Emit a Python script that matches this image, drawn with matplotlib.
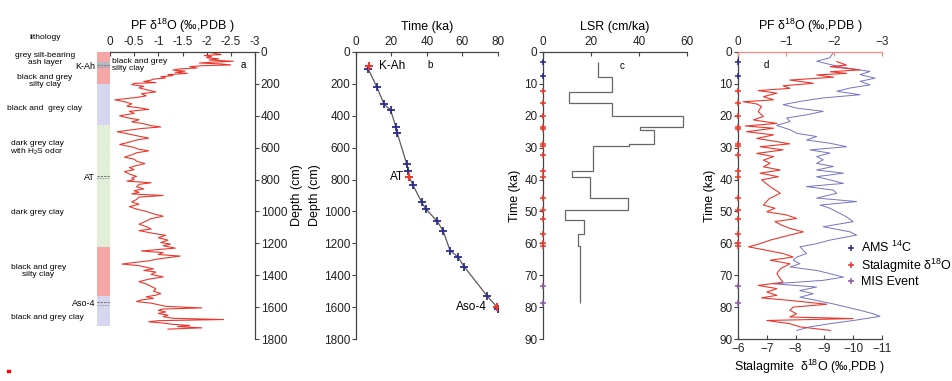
import matplotlib.pyplot as plt
import matplotlib.transforms as mtransforms
from matplotlib.lines import Line2D
from matplotlib.patches import Rectangle

plt.rcParams['font.family'] = ['Liberation Sans', 'DejaVu Sans']
plt.rcParams['font.size'] = 8.5
plt.rcParams['mathtext.fontset'] = 'custom'
plt.rcParams['mathtext.rm'] = 'Liberation Sans'
plt.rcParams['mathtext.default'] = 'regular'
plt.rcParams['axes.linewidth'] = 0.9
plt.rcParams['axes.edgecolor'] = '#444444'
plt.rcParams['xtick.color'] = '#444444'
plt.rcParams['ytick.color'] = '#444444'
plt.rcParams['xtick.labelcolor'] = '#222222'
plt.rcParams['ytick.labelcolor'] = '#222222'

# ---- panel a: PF d18O against depth ----
pf_depth = [0, 8, 16, 22, 28, 36, 43, 50, 58, 64,
            69, 75, 81, 86, 92, 100, 106, 113, 120, 127,
            134, 142, 148, 155, 163, 170, 176, 185, 192, 197,
            205, 215, 225, 240, 250, 262, 275, 285, 300, 312,
            325, 340, 350, 360, 372, 385, 400, 412, 425, 438,
            450, 462, 470, 480, 490, 500, 512, 525, 540, 552,
            565, 580, 595, 610, 620, 632, 645, 660, 672, 685,
            700, 712, 725, 738, 750, 765, 780, 790, 800, 810,
            820, 830, 845, 858, 870, 880, 890, 900, 910, 925,
            940, 955, 970, 985, 1000, 1015, 1030, 1045, 1060, 1080,
            1095, 1110, 1120, 1135, 1150, 1165, 1180, 1195, 1205, 1215,
            1230, 1240, 1248, 1258, 1270, 1280, 1290, 1300, 1310, 1320,
            1330, 1340, 1350, 1360, 1370, 1380, 1395, 1410, 1425, 1440,
            1455, 1470, 1485, 1500, 1515, 1525, 1535, 1545, 1555, 1565,
            1575, 1585, 1595, 1605, 1612, 1620, 1630, 1640, 1650, 1660,
            1670, 1678, 1685, 1692, 1700, 1708, 1715, 1722, 1730, 1738]
pf_value = [-2.05, -2.15, -2.3, -1.95, -2.1, -2.0, -2.25, -2.05, -2.55, -2.1,
            -1.85, -2.3, -2.5, -1.9, -1.65, -1.8, -1.45, -1.3, -1.55, -1.35,
            -1.6, -1.2, -1.3, -1.05, -1.15, -0.9, -0.85, -0.7, -0.95, -0.5,
            -0.45, -0.7, -0.6, -0.8, -0.95, -0.65, -0.75, -0.55, -0.1, -0.3,
            -0.45, -0.35, -0.6, -0.8, -0.4, -0.5, -0.2, -0.35, -0.6, -0.45,
            -0.7, -0.85, -1.05, -0.65, -0.4, -0.15, -0.35, -0.55, -0.8, -0.55,
            -0.4, -0.2, -0.45, -0.6, -0.8, -0.55, -0.45, -0.3, -0.5, -0.55,
            -0.72, -0.55, -0.4, -0.5, -0.3, -0.4, -0.55, -0.45, -0.5, -0.35,
            -0.85, -0.6, -0.55, -0.7, -0.5, -0.6, -0.45, -1.1, -0.6, -0.55,
            -0.45, -0.6, -0.4, -0.55, -0.75, -0.9, -1.1, -0.85, -0.75, -0.6,
            -0.75, -0.85, -0.6, -0.85, -1.15, -1.0, -1.2, -1.05, -1.25, -1.1,
            -1.35, -0.95, -0.65, -1.1, -1.0, -1.45, -1.2, -0.95, -0.8, -0.5,
            -0.25, -0.6, -0.75, -0.9, -0.7, -0.95, -0.85, -1.1, -0.8, -0.6,
            -0.75, -0.85, -0.95, -0.9, -1.05, -0.95, -0.75, -0.9, -0.65, -0.55,
            -0.85, -1.0, -1.15, -1.9, -1.1, -1.0, -1.15, -1.0, -1.2, -1.1,
            -1.3, -2.35, -1.0, -0.8, -1.1, -1.3, -1.65, -1.4, -1.9, -1.2]
pf_ticks = [0, -0.5, -1, -1.5, -2, -2.5, -3]
pf_ticklabels = ['0', '-0.5', '-1', '-1.5', '-2', '-2.5', '-3']

# lithology column
litho_top = [0, 200, 455, 1225, 1530]
litho_bot = [200, 455, 1225, 1530, 1720]
litho_color = ['#f5a6a6', '#d6d6ee', '#e2efd8', '#f5a6a6', '#d6d6ee']
litho_text = ['grey silt-bearing\nash layer', 'black and grey\nsilty clay',
              'black and  grey clay', 'dark grey clay\nwith H$_2$S odor',
              'dark grey clay', 'black and grey\nsilty clay', 'black and grey clay']
litho_text_depth = [44, 182, 352, 604, 1006, 1371, 1667]
litho_text_x = [-4.0, -4.0, -4.0, -4.6, -4.6, -4.5, -3.85]
marker_bed = ['K-Ah', 'AT', 'Aso-4']
marker_bed_depth = [80, 776, 1570]

# ---- panel b: age model ----
ams_age = [6.8, 11.7, 15.8, 19.5, 22.5, 23.3, 28.5, 29.5, 32.2, 37.0,
           39.3, 45.8, 49.2, 53.0, 57.3, 61.0, 74.0, 80.0]
ams_depth = [105, 218, 327, 365, 470, 511, 700, 747, 837, 942,
             984, 1062, 1125, 1246, 1284, 1347, 1532, 1613]
tephra_name = ['K-Ah', 'AT', 'Aso-4']
tephra_age = [7.3, 30.0, 79.3]
tephra_depth = [88, 785, 1598]
tephra_dx = [7, -4, -7]

# ---- panel c: linear sedimentation rate ----
lsr_edges = [3.0, 7.7, 12.4, 16.0, 20.0, 23.5, 24.4, 28.8, 29.6, 37.4,
             39.3, 45.9, 49.4, 52.7, 57.2, 60.8, 78.8]
lsr_values = [23.0, 28.6, 10.8, 28.6, 58.2, 40.4, 46.4, 36.0, 20.7, 12.0,
              19.6, 35.6, 9.2, 17.2, 14.7, 15.4]

# control points drawn on the time axes
ams_t = [3.2, 7.5]
stal_t = [12.1, 16.0, 20.0, 23.6, 24.3, 28.8, 29.6, 32.2, 37.4, 39.3,
          45.9, 49.4, 52.5, 57.2, 59.8, 60.8]
mis_t = [73.3, 78.8]

# ---- panel d: PF d18O and stalagmite d18O against time ----
pfd_time = [3.0, 4.1, 4.6, 5.6, 6.2, 6.7, 7.2, 7.9, 8.8, 9.8,
            10.6, 11.4, 12.1, 12.9, 14.0, 15.0, 15.6, 16.3, 17.1, 18.7,
            20.2, 21.3, 22.4, 23.2, 23.9, 25.0, 26.0, 27.1, 28.1, 28.8,
            29.7, 30.7, 31.8, 32.8, 33.9, 34.9, 36.0, 37.0, 38.0, 39.1,
            40.1, 42.2, 44.3,
            46.0, 48.0, 49.0, 50.1, 51.1, 52.2, 53.2, 54.3, 55.3, 56.4,
            57.4, 59.0, 60.1, 61.1, 62.2, 63.2, 64.3, 65.3, 66.4, 68.0,
            69.5, 71.1, 72.2, 73.2, 74.2, 75.3, 76.3, 77.1, 77.9, 79.1,
            80.0, 81.0, 82.1, 83.1, 83.6, 84.2, 85.2, 86.2, 87.3]
pfd_value = [-2.06, -2.26, -1.92, -2.54, -1.92, -2.26, -1.64, -1.99, -1.08, -1.57,
             -0.94, -1.08, -0.42, -0.81, -0.53, -0.74, -0.11, -0.39, -0.49, -0.42,
             -0.53, -0.32, -0.81, -0.15, -0.74, -0.18, -0.74, -0.39, -0.81, -1.08,
             -0.46, -0.94, -0.39, -0.74, -0.53, -0.67, -0.53, -0.88, -0.46, -0.84,
             -0.49, -0.67, -0.88,
             -0.65, -0.53, -0.77, -0.6, -1.01, -1.22, -0.77, -0.91, -1.08, -1.36,
             -1.08, -0.67, -0.46, -0.22, -0.6, -0.94, -1.15, -0.67, -1.08, -0.88,
             -0.81, -0.88, -0.94, -0.42, -0.81, -0.6, -0.81, -0.49, -1.08, -1.85,
             -1.15, -1.08, -1.22, -1.08, -2.4, -0.6, -1.08, -1.29, -1.92]
stal_time = [0.2, 1.8, 2.9, 3.9, 5.0, 6.1, 7.1, 8.2, 9.2, 10.3,
             11.3, 12.3, 13.4, 14.4, 15.5, 16.5, 17.6, 18.6, 19.7, 20.7,
             21.8, 23.0, 24.4, 25.5, 26.5, 27.6, 28.6, 29.7, 30.7, 31.7,
             32.8, 33.8, 34.9, 35.9, 37.0, 38.0, 39.1, 40.1, 41.2, 42.2,
             43.3, 44.3, 45.8, 46.9, 48.0, 49.0, 50.1, 51.7, 53.2, 54.8,
             56.4, 57.4, 59.0, 60.1, 61.1, 62.2, 63.2, 64.3, 65.3, 66.4,
             67.4, 68.5, 69.5, 70.6, 71.6, 72.7, 73.7, 74.8, 75.8, 76.9,
             77.9, 79.0, 80.0, 81.0, 82.1, 82.9, 84.2, 85.2, 86.2, 87.3]
stal_value = [-9.31, -9.19, -8.73, -9.19, -9.77, -10.58, -10.24, -10.76, -10.24, -10.58,
              -9.89, -9.43, -10.24, -8.96, -8.15, -7.57, -8.04, -8.96, -8.38, -7.69,
              -7.81, -7.34, -7.81, -8.04, -8.73, -8.38, -9.19, -9.77, -8.5, -9.19,
              -8.73, -8.96, -8.73, -9.31, -8.73, -9.66, -8.73, -9.19, -9.66, -8.38,
              -9.31, -9.43, -8.73, -10.12, -8.85, -9.19, -9.43, -9.77, -10.0, -8.96,
              -9.89, -10.12, -9.19, -8.73, -8.15, -8.27, -8.38, -8.04, -7.92, -8.15,
              -7.81, -8.73, -9.19, -9.66, -8.96, -7.23, -8.73, -8.15, -8.61, -8.15,
              -8.73, -9.31, -9.77, -10.24, -10.7, -10.93, -10.0, -9.19, -8.5, -8.04]

RED = '#e8392e'
BLUE = '#2b2b8c'
PURPLE = '#8a5a9e'
LINE_GREY = '#5a5a5a'

W, H = 953, 381


def box(x0, x1, y0=52, y1=339):
    return [x0 / W, 1 - y1 / H, (x1 - x0) / W, (y1 - y0) / H]


def axis_marks(ax, x0):
    for times, col in ((ams_t, BLUE), (stal_t, RED), (mis_t, PURPLE)):
        ax.plot([x0] * len(times), times, '+', color=col, ms=5, mew=1.1,
                clip_on=False, zorder=5)


fig = plt.figure(figsize=(9.53, 3.81), dpi=100)

# panel a
ax_a = fig.add_axes(box(110, 255))
ax_a.plot(pf_value, pf_depth, color=RED, lw=0.8)
ax_a.set_xlim(0, -3)
ax_a.set_ylim(1800, 0)
ax_a.xaxis.tick_top()
ax_a.xaxis.set_label_position('top')
ax_a.yaxis.tick_right()
ax_a.yaxis.set_label_position('right')
ax_a.spines[['left', 'bottom']].set_visible(False)
ax_a.set_xticks(pf_ticks)
ax_a.set_xticklabels(pf_ticklabels)
ax_a.set_yticks(range(0, 1801, 200))
ax_a.set_xlabel('PF δ$^{18}$O (‰,PDB )', fontsize=9, labelpad=4)
ax_a.set_ylabel('Depth (cm)', fontsize=9, labelpad=3)
ax_a.tick_params(axis='x', direction='in', length=3, pad=3)
ax_a.tick_params(axis='y', direction='out', length=3, pad=1)
ax_a.text(-0.05, 82, 'black and grey\nsilty clay', ha='left', va='center',
          fontsize=6, linespacing=1.0)
ax_a.text(-2.75, 82, 'a', ha='center', va='center', fontsize=7)

# lithology column
ax_l = fig.add_axes(box(97, 110))
ax_l.set_xlim(0, 1)
ax_l.set_ylim(1800, 0)
ax_l.axis('off')
for top, bot, col in zip(litho_top, litho_bot, litho_color):
    ax_l.axhspan(top, bot, color=col, lw=0)
ax_l.axhspan(60, 95, color='#b8b8c8', lw=0)
tr = mtransforms.blended_transform_factory(ax_l.transAxes, ax_l.transData)
ax_l.text(-4.0, -88, 'lithology', transform=tr, ha='center', va='center',
          fontsize=6, clip_on=False)
for txt, d, x in zip(litho_text, litho_text_depth, litho_text_x):
    ax_l.text(x, d, txt, transform=tr, ha='center', va='center', fontsize=6,
              linespacing=1.0, clip_on=False)
for name, d in zip(marker_bed, marker_bed_depth):
    ax_l.plot([0, 1], [d, d], ls=(0, (2, 1)), color='#777777', lw=0.8)
    ax_l.plot([0, 1], [d + 14, d + 14], ls=(0, (2, 1)), color='#999999', lw=0.6)
    ax_l.text(-0.15, d + 8, name, transform=tr, ha='right', va='center',
              fontsize=6.5, clip_on=False)

# panel b
ax_b = fig.add_axes(box(356, 498))
model = sorted(zip(ams_depth + tephra_depth, ams_age + tephra_age))
ax_b.plot([a for d, a in model], [d for d, a in model], color=LINE_GREY, lw=0.9)
ax_b.plot(ams_age, ams_depth, '+', color=BLUE, ms=6, mew=1.3)
ax_b.plot(tephra_age, tephra_depth, '+', color=RED, ms=6, mew=1.5)
for name, a, d, dx in zip(tephra_name, tephra_age, tephra_depth, tephra_dx):
    ax_b.annotate(name, (a, d), xytext=(dx, 0), textcoords='offset points',
                  ha='left' if dx > 0 else 'right', va='center', fontsize=8.5)
ax_b.text(41.7, 82, 'b', ha='center', va='center', fontsize=7)
ax_b.set_xlim(0, 80)
ax_b.set_ylim(1800, 0)
ax_b.xaxis.tick_top()
ax_b.xaxis.set_label_position('top')
ax_b.spines[['right', 'bottom']].set_visible(False)
ax_b.set_xticks(range(0, 81, 20))
ax_b.set_yticks(range(0, 1801, 200))
ax_b.set_xlabel('Time (ka)', fontsize=9, labelpad=4)
ax_b.set_ylabel('Depth (cm)', fontsize=9, labelpad=2)
ax_b.tick_params(axis='x', direction='in', length=3, pad=3)
ax_b.tick_params(axis='y', direction='out', length=3, pad=1)

# panel c
ax_c = fig.add_axes(box(543, 687))
ax_c.stairs(lsr_values, lsr_edges, orientation='horizontal', baseline=None,
            color='#666666', lw=0.9)
axis_marks(ax_c, 0)
ax_c.text(32.8, 4.4, 'c', ha='center', va='center', fontsize=7)
ax_c.set_xlim(0, 60)
ax_c.set_ylim(90, 0)
ax_c.xaxis.tick_top()
ax_c.xaxis.set_label_position('top')
ax_c.spines[['right', 'bottom']].set_visible(False)
ax_c.set_xticks(range(0, 61, 20))
ax_c.set_yticks(range(0, 91, 10))
ax_c.set_xlabel('LSR (cm/ka)', fontsize=9, labelpad=4)
ax_c.set_ylabel('Time (ka)', fontsize=9, labelpad=2)
ax_c.tick_params(axis='x', direction='in', length=3, pad=3)
ax_c.tick_params(axis='y', direction='out', length=3, pad=1)

# panel d
ax_d = fig.add_axes(box(738, 882))
ax_d.plot(stal_value, stal_time, color='#7474c4', lw=0.7)
axis_marks(ax_d, -6)
ax_d.set_xlim(-6, -11)
ax_d.set_ylim(90, 0)
ax_d.spines[['top', 'right']].set_visible(False)
ax_d.set_xticks(range(-6, -12, -1))
ax_d.set_yticks(range(0, 91, 10))
ax_d.set_xlabel('Stalagmite  δ$^{18}$O (‰,PDB )', fontsize=9, labelpad=2)
ax_d.set_ylabel('Time (ka)', fontsize=9, labelpad=2)
ax_d.tick_params(axis='x', direction='in', length=3, pad=3)
ax_d.tick_params(axis='y', direction='out', length=3, pad=1)

ax_d2 = ax_d.twiny()
ax_d2.plot(pfd_value, pfd_time, color=RED, lw=0.8)
ax_d2.set_xlim(0, -3)
ax_d2.spines[['left', 'right', 'bottom']].set_visible(False)
ax_d2.spines['top'].set_color('#f08a80')
ax_d2.set_xticks([0, -1, -2, -3])
ax_d2.set_xlabel('PF δ$^{18}$O (‰,PDB )', fontsize=9, labelpad=4)
ax_d2.tick_params(axis='x', direction='in', length=3, pad=3, color='#f08a80')
ax_d2.text(-0.6, 4.0, 'd', ha='center', va='center', fontsize=7)

handles = [Line2D([], [], marker='+', ls='none', color=c, ms=5, mew=1.1)
           for c in (BLUE, RED, PURPLE)]
fig.legend(handles, ['AMS $^{14}$C', 'Stalagmite δ$^{18}$O', 'MIS Event'],
           loc='upper left', bbox_to_anchor=(846 / W, 1 - 240 / H),
           frameon=False, fontsize=9, handlelength=0.8, handletextpad=0.4,
           labelspacing=0.1, borderpad=0, borderaxespad=0)

fig.patches.append(Rectangle((7 / W, 1 - 372 / H), 3 / W, 2 / H, color='red',
                             transform=fig.transFigure, figure=fig))

fig.savefig('out.png', dpi=100)
